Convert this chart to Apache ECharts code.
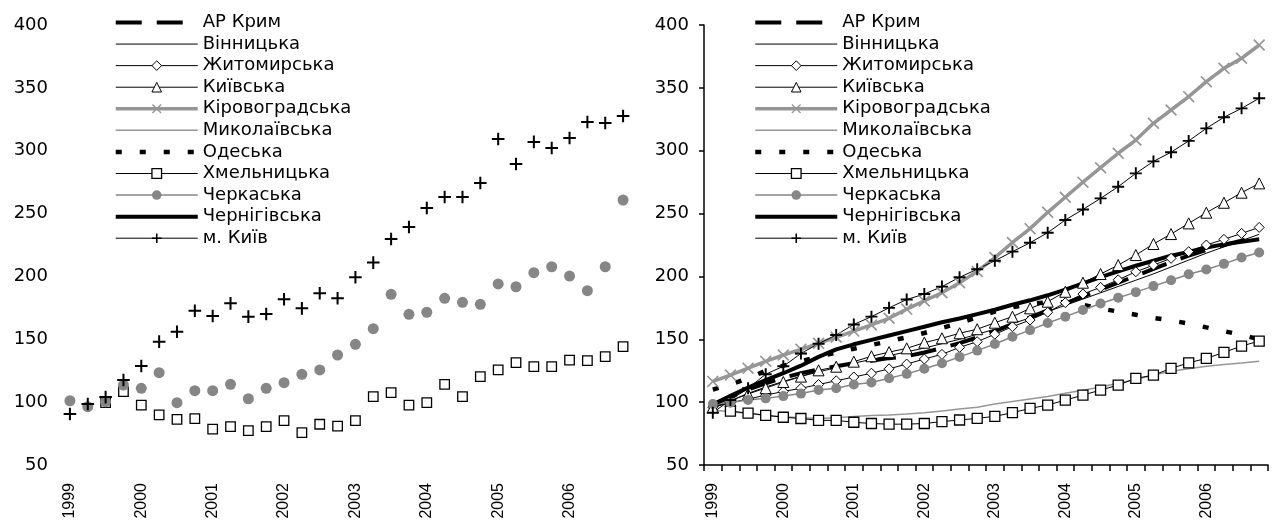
<!DOCTYPE html>
<html>
<head>
<meta charset="utf-8">
<script src="https://cdn.jsdelivr.net/npm/echarts@6/dist/echarts.min.js"></script>
<style>
html,body{margin:0;padding:0;background:#fff;}
#c{width:1283px;height:524px;}
</style>
</head>
<body>
<div id="c"></div>
<script>
// ---- data ----
const years = ['1999','2000','2001','2002','2003','2004','2005','2006'];
const quarters = ['I','II','III','IV'];
const yTicks = {min: 50, max: 400, step: 50};

const seriesNames = ['АР Крим','Вінницька','Житомирська','Київська','Кіровоградська',
  'Миколаївська','Одеська','Хмельницька','Черкаська','Чернігівська','м. Київ'];

// left panel (actual indices, markers only)
const leftKhmelnytskyi = [null, null, 99.6, 108.3, 97.7, 89.8, 86.3, 86.9, 78.6, 80.5, 77.3, 80.5, 85.3, 75.7, 82.4, 81, 85.3, 104.4, 107.5, 97.7, 99.6, 114.2, 104.4, 120.3, 125.6, 131.4, 128.2, 128.2, 133.5, 133, 136.2, 144.1];
const leftCherkasy = [101.1, 96.4, 100.4, 113.6, 111, 123.4, 99.6, 109.1, 109.1, 114.2, 102.7, 111, 115.5, 122.1, 125.6, 137.5, 146, 158.4, 185.8, 169.9, 171.5, 182.6, 179.4, 177.8, 194, 191.8, 203, 207.7, 200.3, 188.7, 207.7, 260.8];
const leftKyivCity = [90.6, 98.5, 104, 117.6, 128.8, 148.1, 156, 172.7, 168.5, 178.6, 168, 170.1, 181.8, 174.6, 186.6, 182.6, 199.3, 211, 229.8, 239.3, 254.4, 263.2, 263.2, 274.3, 309.3, 289.4, 307, 302.2, 310.1, 322.9, 322, 327.6];

// right panel (trends)
const crimea = [98, 104, 110, 115, 119.5, 123, 126, 128.5, 131, 133, 135, 136.5, 139.5, 143, 147, 151.5, 156.5, 162, 167.5, 173, 178.5, 184, 189.5, 195, 200.5, 206, 211.5, 216.5, 221, 225, 228.5, 232];
const vinnytsia = [95, 101, 107, 112, 116.5, 120.5, 124, 127.5, 131, 134, 137, 140, 143, 146.5, 150, 154, 158, 162.5, 167, 172, 177, 182, 187, 192, 197, 202, 207.5, 213, 218.5, 223.5, 228.5, 233.5];
const zhytomyr = [96, 99.5, 102.5, 105.5, 108.5, 111, 114, 117, 120, 123, 126.5, 130.3, 134.3, 138, 143.6, 148.1, 154, 160, 165.3, 171.5, 179.1, 186, 191.3, 197.3, 203.7, 209, 214.4, 219.7, 225, 229.5, 234.2, 239];
const kyivOblast = [96, 101, 106.5, 111.2, 116, 120.3, 125.3, 128.2, 132.2, 136.5, 139.8, 142.8, 147.3, 150.8, 154.8, 158, 163.2, 168, 174.6, 179.9, 187.8, 195, 201.9, 209, 217, 225.8, 233.7, 242.2, 250.7, 258.6, 266.6, 274];
const kirovohrad = [116.5, 121.5, 127, 132.5, 137.5, 142, 146.8, 151.6, 156.5, 161.4, 166.7, 174, 180.5, 187, 195, 204, 215, 227, 238, 251, 263, 275, 286.5, 298, 308.5, 321.8, 332.4, 343, 354.9, 365.5, 373.5, 384.1];
const mykolaiv = [93.5, 92.5, 91, 89.5, 88.3, 87.5, 87, 87.5, 88.5, 89.3, 89.8, 90.5, 91.5, 93, 94.5, 96, 98.5, 100.5, 102.5, 104.5, 107, 109.5, 112, 115, 118, 121.5, 124.5, 126.5, 128.5, 130, 131.2, 132.5];
const odesa = [110, 114, 119, 125, 129, 132.5, 136, 139.5, 142.5, 145.5, 148.5, 151.5, 155, 159, 163, 167.5, 172, 175.5, 178, 179.5, 179.5, 177.5, 174.5, 172, 169.5, 167, 165, 162.5, 159.5, 156.5, 153.5, 150];
const khmelnytskyi = [null, 92.8, 91.3, 89.5, 88, 87, 85.5, 85.5, 84, 83, 82.5, 82.5, 83, 84.5, 85.8, 87.1, 88.7, 91.6, 95, 97.7, 101.6, 105.6, 109.6, 113.6, 118.9, 121.5, 126.8, 131.3, 134.8, 139.6, 144.6, 148.6];
const cherkasy = [98.5, 99.5, 101.8, 103, 104.8, 106.8, 109.7, 111, 114, 115.7, 119, 122.5, 126.5, 130.9, 136, 141, 146.2, 152, 157.3, 163, 168, 173.3, 178.5, 183, 187.5, 192.3, 197, 201.7, 205.5, 210, 215, 219];
const chernihiv = [98, 105, 111.5, 117.5, 123, 129, 136, 142, 146, 149.5, 153, 156.5, 160, 163.5, 166.5, 170, 173.5, 177.5, 181, 185, 189.5, 194.5, 199.5, 204, 208.5, 212.5, 216.5, 219.5, 223, 225.5, 227.5, 229.5];
const kyivCity = [91.6, 101.7, 111, 122.2, 128.5, 138.7, 146.5, 153.4, 161.8, 168, 175, 181.6, 186, 191.9, 199.3, 205.7, 212.5, 219.7, 226.8, 234.8, 244.9, 253.3, 262.1, 271.4, 282, 291.5, 298.8, 307.8, 317.8, 326.6, 333.7, 341.7];

const rightData = [crimea, vinnytsia, zhytomyr, kyivOblast, kirovohrad, mykolaiv, odesa, khmelnytskyi, cherkasy, chernihiv, kyivCity];
const leftData = {'Хмельницька': leftKhmelnytskyi, 'Черкаська': leftCherkasy, 'м. Київ': leftKyivCity};

// ---- styles ----
const categories = [];
years.forEach(y => quarters.forEach(q => categories.push(y + ' ' + q)));

const PLUS = 'path://M4.2,0L5.8,0L5.8,4.2L10,4.2L10,5.8L5.8,5.8L5.8,10L4.2,10L4.2,5.8L0,5.8L0,4.2L4.2,4.2Z';
const CROSS = 'path://M0,1L1,0L10,9L9,10Z M9,0L10,1L1,10L0,9Z';
const GRAY = '#969696';
const DGRAY = '#868686';
const NONE = 'rgba(0,0,0,0)';

const styles = {
  'АР Крим':        {lc:'#000', lw:4,   lt:[26,15]},
  'Вінницька':      {lc:'#000', lw:1},
  'Житомирська':    {lc:'#000', lw:1,   sym:'diamond',  ss:10, fill:'#fff', stroke:'#000', bw:1},
  'Київська':       {lc:'#000', lw:1,   sym:'triangle', ss:11, fill:'#fff', stroke:'#000', bw:1},
  'Кіровоградська': {lc:GRAY,   lw:3.5, sym:CROSS,      ss:12, fill:GRAY,   stroke:NONE,   bw:0},
  'Миколаївська':   {lc:GRAY,   lw:1.5},
  'Одеська':        {lc:'#000', lw:4.5, lt:[6,18]},
  'Хмельницька':    {lc:'#000', lw:1,   sym:'rect',     ss:10, fill:'#fff', stroke:'#000', bw:1.3},
  'Черкаська':      {lc:DGRAY,  lw:1.5, sym:'circle',   ss:10, fill:DGRAY,  stroke:NONE,   bw:0},
  'Чернігівська':   {lc:'#000', lw:4},
  'м. Київ':        {lc:'#000', lw:1,   sym:PLUS,       ss:12, fill:'#000', stroke:NONE,   bw:0}
};

function legendData() {
  return seriesNames.map(n => {
    const s = styles[n];
    return {
      name: n,
      lineStyle: {color: s.lc, width: s.lw, type: s.lt || 'solid', opacity: 1},
      itemStyle: s.sym ? {color: s.fill, borderColor: s.stroke, borderWidth: s.bw, opacity: 1}
                       : {color: NONE, borderColor: NONE, borderWidth: 0, opacity: 0}
    };
  });
}

function makeSeries(n, data, axis, showLine, sizeScale) {
  const s = styles[n];
  return {
    name: n, type: 'line', xAxisIndex: axis, yAxisIndex: axis, data: data,
    silent: true, animation: false, connectNulls: false,
    symbol: s.sym || 'circle',
    showSymbol: !!s.sym, showAllSymbol: true,
    symbolSize: s.sym ? s.ss * (sizeScale || 1) : 0,
    itemStyle: s.sym ? {color: s.fill, borderColor: s.stroke, borderWidth: s.bw} : {color: NONE},
    lineStyle: {color: s.lc, width: s.lw, type: s.lt || 'solid', opacity: showLine ? 1 : 0},
    emphasis: {disabled: true}
  };
}

const series = [];
['Хмельницька','Черкаська','м. Київ'].forEach(n => {
  const sc = n === 'Хмельницька' ? 0.95 : (n === 'Черкаська' ? 1.1 : 1.05);
  series.push(makeSeries(n, leftData[n], 0, false, sc));
});
seriesNames.forEach((n, i) => series.push(makeSeries(n, rightData[i], 1, true, 1)));

function xAxis(idx, show) {
  return {
    type: 'category', gridIndex: idx, data: categories, boundaryGap: true,
    axisLine: {show: show, lineStyle: {color: '#000', width: 1.5}},
    axisTick: {show: show, interval: 0, length: 6, lineStyle: {color: '#000', width: 1.5}},
    axisLabel: {interval: 3, rotate: 90, margin: 18, color: '#000',
      fontFamily: 'Liberation Sans, Arial, sans-serif', fontSize: 16,
      formatter: v => v.split(' ')[0]},
    splitLine: {show: false}
  };
}
function yAxis(idx, show, margin) {
  return {
    type: 'value', gridIndex: idx, min: yTicks.min, max: yTicks.max, interval: yTicks.step,
    axisLine: {show: show, lineStyle: {color: '#000', width: 1.5}},
    axisTick: {show: show, length: 5, lineStyle: {color: '#000', width: 1.5}},
    axisLabel: {margin: margin, color: '#000', fontFamily: 'DejaVu Sans, sans-serif', fontSize: 18},
    splitLine: {show: false}
  };
}
function legend(left) {
  return {
    left: left, top: 13.5, orient: 'vertical', padding: 0,
    itemWidth: 82, itemHeight: 12, itemGap: 3.57, selectedMode: false,
    textStyle: {color: '#000', fontFamily: 'DejaVu Sans, sans-serif', fontSize: 18, lineHeight: 18},
    data: legendData()
  };
}

const chart = echarts.init(document.getElementById('c'), null, {renderer: 'canvas'});
chart.setOption({
  animation: false,
  backgroundColor: '#fff',
  grid: [
    {left: 61, top: 25, width: 571, height: 440},
    {left: 704, top: 25, width: 564, height: 440}
  ],
  xAxis: [xAxis(0, false), xAxis(1, true)],
  yAxis: [yAxis(0, false, 13), yAxis(1, true, 15)],
  legend: [legend(113.5), legend(753)],
  series: series
});
</script>
</body>
</html>
